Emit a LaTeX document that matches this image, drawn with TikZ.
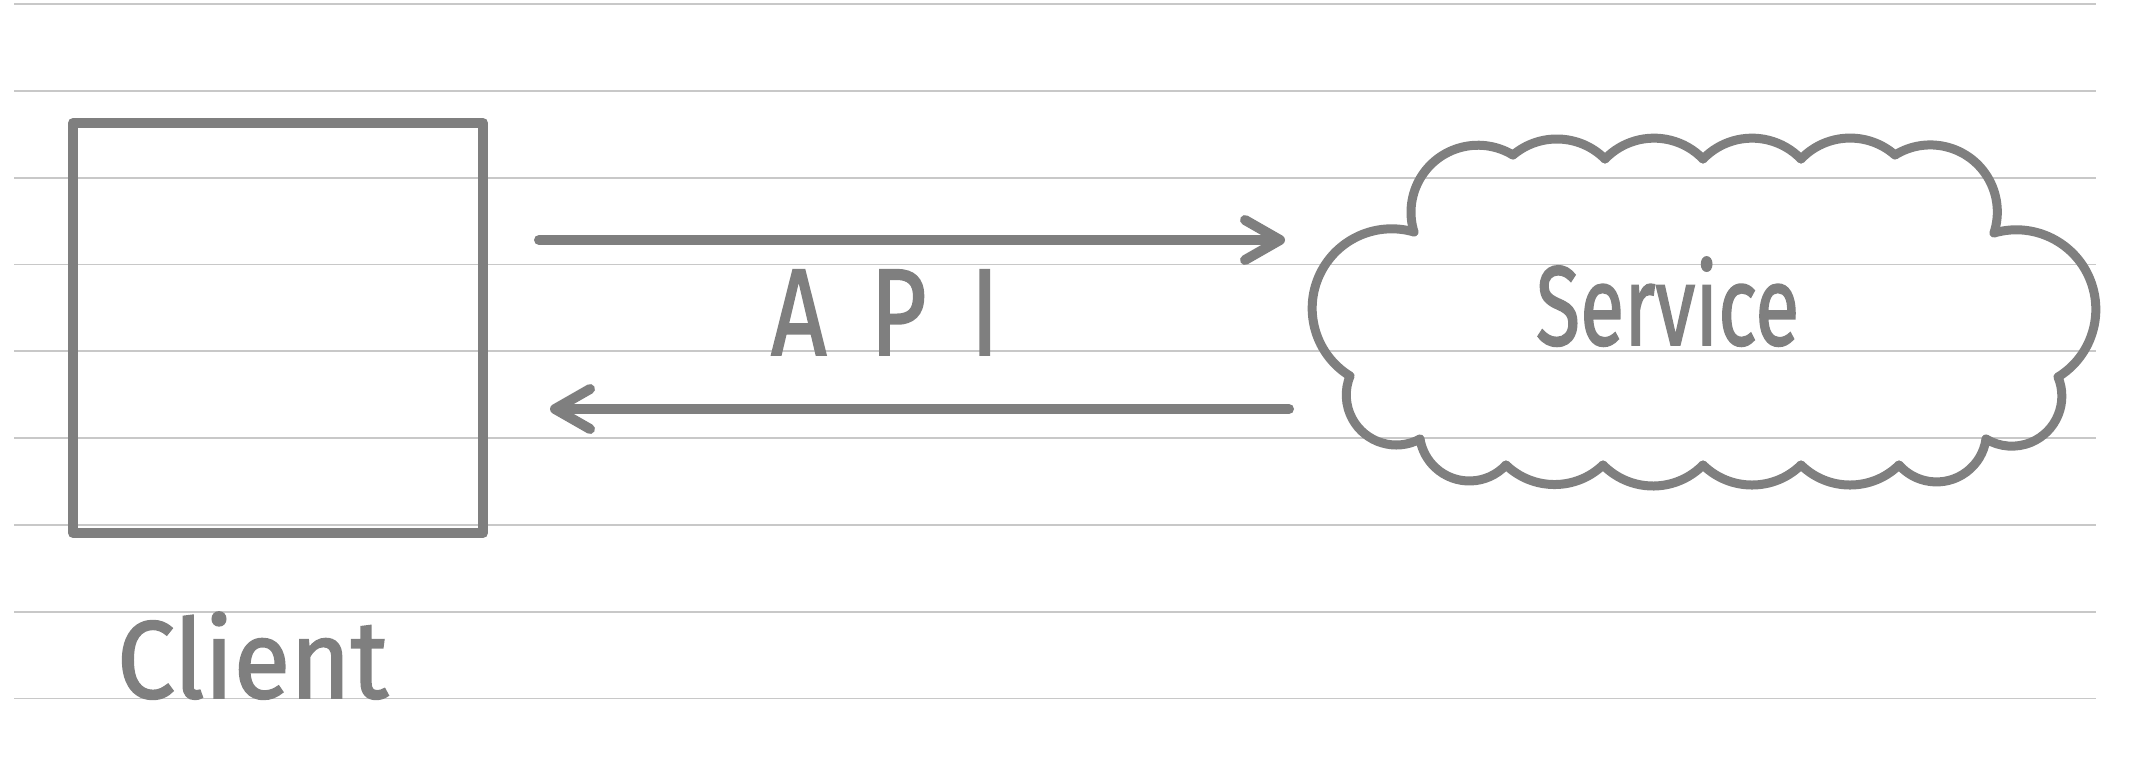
\documentclass[tikz,border=0pt]{standalone}
\usepackage{fontspec}
\setmainfont{Fira Sans}
\newfontfamily\handfont{Fira Sans}[FakeBold=1.6]
\usetikzlibrary{arrows.meta,calc}
\definecolor{ink}{RGB}{127,127,127}
\definecolor{ruling}{RGB}{200,200,200}
\tikzset{
  ruleline/.style={draw=ruling, line width=1.8pt},
  inkline/.style={draw=ink, line width=10pt, line cap=round, line join=round},
  cloudline/.style={draw=ink, line width=9pt, line cap=round, line join=round},
  hand/.style={text=ink, inner sep=0pt, outer sep=0pt, font=\handfont},
  flow/.style={inkline, -{Straight Barb[length=35pt,width=40pt,round]}},
}
% arc bulging outward from cusp #1 to cusp #2 (clockwise), radius #3 (pt)
\newcommand\lobe[3]{%
  \draw[cloudline] let \p1=(#1), \p2=(#2),
    \n1={veclen(\x2-\x1,\y2-\y1)},
    \n2={sqrt(max((#3)*(#3)-(\n1/2)*(\n1/2),0))},
    \n3={(\x2-\x1)/\n1}, \n4={(\y2-\y1)/\n1},
    \p3=({(\x1+\x2)/2 + \n2*\n4}, {(\y1+\y2)/2 - \n2*\n3}),
    \n5={atan2(\y1-\y3,\x1-\x3)}, \n6={atan2(\y2-\y3,\x2-\x3)},
    \n7={\n5 - mod(\n5-\n6+720,360)}
  in (#1) arc[start angle=\n5, end angle=\n7, radius=#3pt];
}
\begin{document}
\begin{tikzpicture}[x=1pt,y=1pt]
\useasboundingbox (0,0) rectangle (2150,-764);
% notebook ruling
\foreach \k in {0,...,8}
  \draw[ruleline] (14,{-4-86.8*\k}) -- (2096,{-4-86.8*\k});

% client box
\node[inkline, minimum width=410pt, minimum height=410pt, inner sep=0pt, outer sep=0pt] (client) at (278,-328) {};
\node[hand, anchor=base west] (clientlabel) at (117,-698) {\resizebox{271pt}{86pt}{Client}};

% service cloud
\coordinate (c1) at (1414,-232);
\coordinate (c2) at (1513,-155);
\coordinate (c3) at (1605,-159);
\coordinate (c4) at (1703,-159);
\coordinate (c5) at (1801,-159);
\coordinate (c6) at (1895,-155);
\coordinate (c7) at (1994,-233);
\coordinate (c8) at (2058,-377);
\coordinate (c9) at (1986,-439);
\coordinate (c10) at (1899,-465);
\coordinate (c11) at (1801,-465);
\coordinate (c12) at (1703,-465);
\coordinate (c13) at (1603,-465);
\coordinate (c14) at (1506,-465);
\coordinate (c15) at (1420,-439);
\coordinate (c16) at (1350,-376);
\lobe{c1}{c2}{67}
\lobe{c2}{c3}{68}
\lobe{c3}{c4}{68}
\lobe{c4}{c5}{68}
\lobe{c5}{c6}{68}
\lobe{c6}{c7}{67}
\lobe{c7}{c8}{79.5}
\lobe{c8}{c9}{50}
\lobe{c9}{c10}{50}
\lobe{c10}{c11}{70}
\lobe{c11}{c12}{70}
\lobe{c12}{c13}{70}
\lobe{c13}{c14}{70}
\lobe{c14}{c15}{50}
\lobe{c15}{c16}{50}
\lobe{c16}{c1}{79.5}
\node[hand, anchor=base west] (service) at (1536,-345) {\resizebox{263pt}{88pt}{Service}};

% API arrows
\coordinate (reqstart) at (539,-240);
\coordinate (reqend) at (1285,-240);
\coordinate (resstart) at (1289,-409);
\coordinate (resend) at (550,-409);
\draw[flow] (reqstart) -- (reqend);
\draw[flow] (resstart) -- (resend);
\node[hand, anchor=base west] (api) at (771,-355) {\resizebox{228pt}{85pt}{A\hspace{0.45em}P\hspace{0.45em}I}};
\end{tikzpicture}
\end{document}
